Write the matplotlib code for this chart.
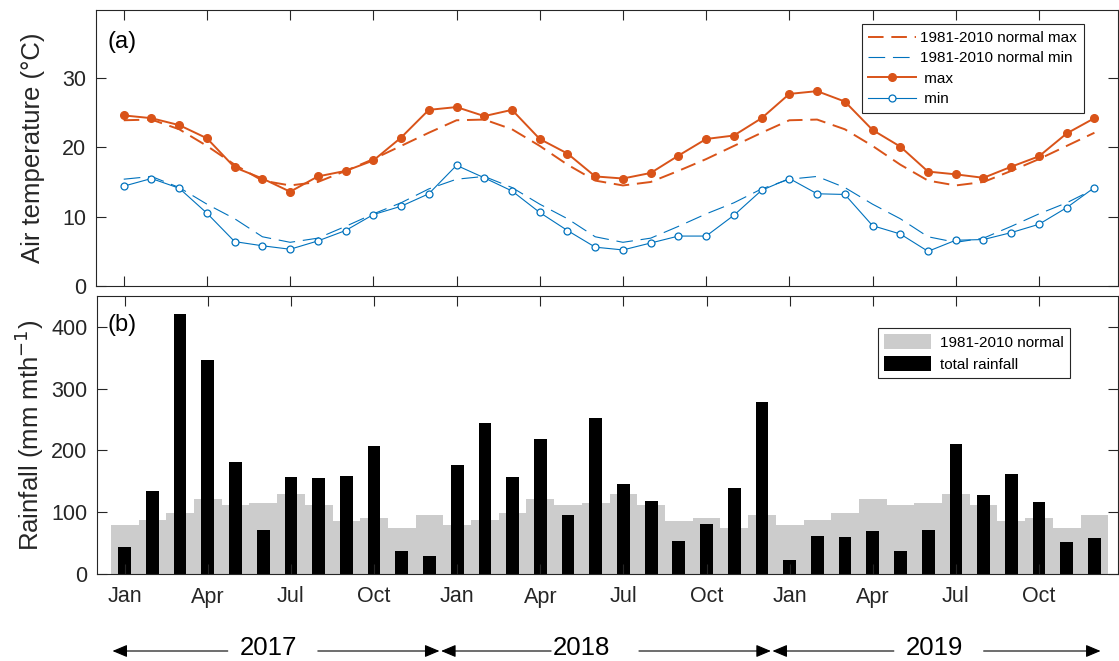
"""
Températures et précipitations mensuelles 2017-2019 comparées aux normales 1981-2010.

  (a) températures max / min mensuelles + normales (tirets)
  (b) cumul mensuel de pluie (noir) sur la normale (gris)

Sortie : out.png
"""
import numpy as np
import matplotlib
matplotlib.use("Agg")
import matplotlib.pyplot as plt

plt.rcParams["font.family"] = ["Liberation Sans", "DejaVu Sans"]

YEARS = ["2017", "2018", "2019"]
TICK_LABELS = ["Jan", "Apr", "Jul", "Oct"] * 3

# températures observées (°C), janv. 2017 -> déc. 2019
T_MAX = [24.6, 24.2, 23.2, 21.3, 17.1, 15.5, 13.6, 15.8, 16.6, 18.1, 21.4, 25.4,
         25.8, 24.5, 25.4, 21.2, 19.1, 15.8, 15.5, 16.3, 18.8, 21.2, 21.7, 24.2,
         27.7, 28.1, 26.6, 22.5, 20.1, 16.5, 16.1, 15.6, 17.2, 18.7, 22.0, 24.2]
T_MIN = [14.4, 15.5, 14.1, 10.5, 6.4, 5.8, 5.3, 6.5, 8.0, 10.3, 11.5, 13.3,
         17.4, 15.6, 13.7, 10.6, 8.0, 5.6, 5.2, 6.2, 7.2, 7.2, 10.2, 13.8,
         15.5, 13.3, 13.2, 8.7, 7.5, 5.0, 6.6, 6.7, 7.7, 8.9, 11.3, 14.2]

# normales 1981-2010, janv. -> déc.
NORM_MAX = [23.9, 24.0, 22.6, 20.2, 17.5, 15.2, 14.5, 15.0, 16.6, 18.3, 20.2, 22.1]
NORM_MIN = [15.4, 15.8, 14.2, 11.8, 9.7, 7.1, 6.3, 6.9, 8.6, 10.4, 12.0, 14.0]

# pluie (mm/mois)
RAIN = [44, 134, 421, 346, 181, 71, 157, 155, 159, 207, 38, 29,
        177, 245, 157, 219, 96, 252, 146, 118, 54, 81, 139, 279,
        23, 62, 60, 70, 37, 72, 211, 128, 162, 117, 52, 58]
NORM_RAIN = [79, 87, 99, 121, 112, 115, 130, 112, 86, 90, 74, 95]

ORANGE = "#D95319"
BLUE = "#0072BD"
AXCOL = "#262626"

W, H = 1119, 661


def _style(ax, ylabel):
    ax.tick_params(direction="in", top=True, right=True, length=7, width=0.8,
                   labelsize=15.5, colors=AXCOL, pad=7)
    for sp in ax.spines.values():
        sp.set_linewidth(0.8)
        sp.set_color(AXCOL)
    ax.set_ylabel(ylabel, fontsize=18.5, color=AXCOL)
    ax.yaxis.set_label_coords(-0.05, 0.5)


def main():
    months = np.arange(len(T_MAX))
    fig = plt.figure(figsize=(W / 100, H / 100), dpi=100)
    ax1 = fig.add_axes([96 / W, 1 - 286 / H, (1118 - 96) / W, (286 - 10) / H])
    ax2 = fig.add_axes([97 / W, 1 - 574 / H, (1118 - 97) / W, (574 - 296) / H])

    # ── (a) températures ──
    ax1.plot(months, np.tile(NORM_MAX, 3), color=ORANGE, lw=1.4, dashes=(8, 4),
             label="1981-2010 normal max")
    ax1.plot(months, np.tile(NORM_MIN, 3), color=BLUE, lw=0.8, dashes=(15, 7),
             label="1981-2010 normal min")
    ax1.plot(months, T_MAX, color=ORANGE, lw=1.4, marker="o", ms=5.5,
             label=" max")
    ax1.plot(months, T_MIN, color=BLUE, lw=0.8, marker="o", ms=5, mfc="white",
             mew=0.9, label=" min")
    ax1.set_xlim(-1, 35.85)
    ax1.set_ylim(0, 39.8)
    ax1.set_yticks([0, 10, 20, 30])
    ax1.set_xticks(months[::3])
    ax1.tick_params(labelbottom=False)
    _style(ax1, "Air temperature (°C)")
    leg = ax1.legend(loc="upper right", bbox_to_anchor=(0.9667, 0.9493),
                     borderaxespad=0, fontsize=11, handlelength=3.1,
                     labelspacing=0.42, fancybox=False, framealpha=1,
                     edgecolor=AXCOL, borderpad=0.45, handletextpad=0.3)
    leg.get_frame().set_linewidth(0.8)
    ax1.text(0.011, 0.885, "(a)", transform=ax1.transAxes, fontsize=17,
             va="center", ha="left")

    # ── (b) précipitations ──
    ax2.bar(months, np.tile(NORM_RAIN, 3), width=1.0, color="#CCCCCC",
            label="1981-2010 normal")
    ax2.bar(months, RAIN, width=0.46, color="black", label="total rainfall")
    ax2.set_xlim(-1, 35.85)
    ax2.set_ylim(0, 450)
    ax2.set_yticks([0, 100, 200, 300, 400])
    ax2.set_xticks(months[::3], TICK_LABELS)
    _style(ax2, "Rainfall (mm mth$^{-1}$)")
    ax2.tick_params(axis="x", pad=9)
    leg = ax2.legend(loc="upper right", bbox_to_anchor=(0.953, 0.886),
                     borderaxespad=0, fontsize=11, handlelength=3.1,
                     handleheight=1.15, labelspacing=0.42, fancybox=False,
                     framealpha=1, edgecolor=AXCOL, borderpad=0.4,
                     handletextpad=0.6)
    leg.get_frame().set_linewidth(0.8)
    ax2.text(0.010, 0.896, "(b)", transform=ax2.transAxes, fontsize=17,
             va="center", ha="left")

    # flèches des années sous l'axe des mois
    year_text_x = [5.17, 16.49, 29.23]
    arrows = [(3.72, -0.44), (6.97, 11.36),
              (15.39, 11.42), (18.56, 23.32),
              (27.76, 23.38), (31.0, 35.22)]
    for x, yr in zip(year_text_x, YEARS):
        ax2.annotate(yr, xy=(x, 1 - 655 / H), xycoords=("data", "figure fraction"),
                     ha="center", va="baseline", fontsize=18.5,
                     annotation_clip=False)
    for tail, tip in arrows:
        ax2.annotate("", xy=(tip, 1 - 651 / H), xytext=(tail, 1 - 651 / H),
                     xycoords=("data", "figure fraction"),
                     textcoords=("data", "figure fraction"),
                     arrowprops=dict(arrowstyle="-|>,head_length=0.9,head_width=0.38",
                                     color="black", lw=0.8, shrinkA=0, shrinkB=0),
                     annotation_clip=False)

    fig.savefig("out.png", dpi=100)
    plt.close(fig)


if __name__ == "__main__":
    main()
